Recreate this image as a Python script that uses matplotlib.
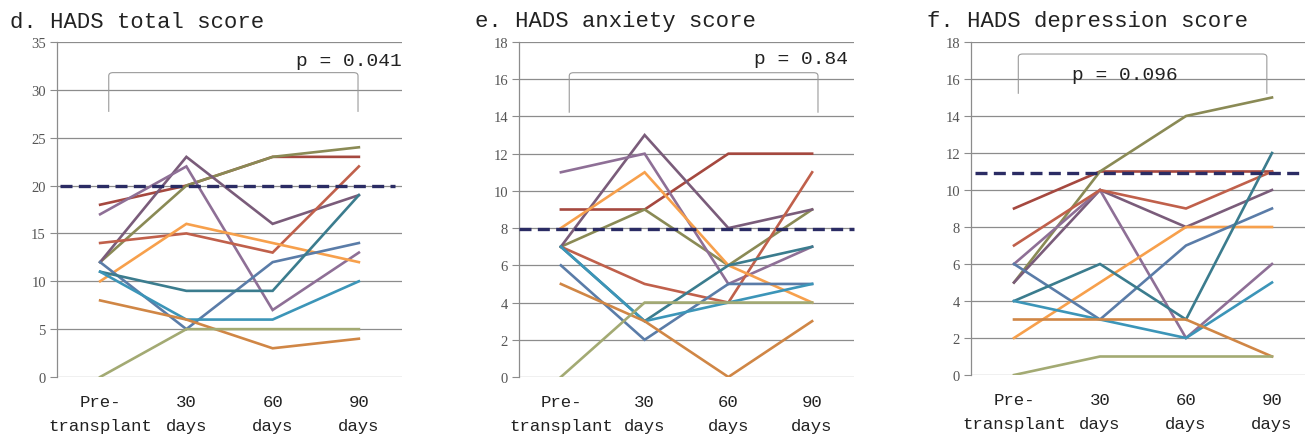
import matplotlib
matplotlib.use("Agg")
import matplotlib.pyplot as plt
from matplotlib.path import Path
from matplotlib.patches import PathPatch

# categories on the x axis
cats = ["Pre-\ntransplant", "30\ndays", "60\ndays", "90\ndays"]

# one row per patient, same colour order in every panel
colors = ["#A5483F", "#8A8A55", "#7A5C7A", "#8E6F96", "#C0604B", "#F7A04C",
          "#5A7CA8", "#3B7C8E", "#3C95B8", "#D08645", "#A3AA73"]

total = [
    [18, 20, 23, 23],
    [12, 20, 23, 24],
    [12, 23, 16, 19],
    [17, 22, 7, 13],
    [14, 15, 13, 22],
    [10, 16, 14, 12],
    [12, 5, 12, 14],
    [11, 9, 9, 19],
    [11, 6, 6, 10],
    [8, 6, 3, 4],
    [0, 5, 5, 5],
]
anxiety = [
    [9, 9, 12, 12],
    [7, 9, 6, 9],
    [7, 13, 8, 9],
    [11, 12, 5, 7],
    [7, 5, 4, 11],
    [8, 11, 6, 4],
    [6, 2, 5, 5],
    [7, 3, 6, 7],
    [7, 3, 4, 5],
    [5, 3, 0, 3],
    [0, 4, 4, 4],
]
depression = [
    [9, 11, 11, 11],
    [5, 11, 14, 15],
    [5, 10, 8, 10],
    [6, 10, 2, 6],
    [7, 10, 9, 11],
    [2, 5, 8, 8],
    [6, 3, 7, 9],
    [4, 6, 3, 12],
    [4, 3, 2, 5],
    [3, 3, 3, 1],
    [0, 1, 1, 1],
]

titles = ["d. HADS total score", "e. HADS anxiety score", "f. HADS depression score"]
ymax = [35, 18, 18]
ystep = [5, 2, 2]
cutoff = [20, 7.95, 10.9]
pvals = ["p = 0.041", "p = 0.84", "p = 0.096"]

mono = "Liberation Mono"
serif = "Liberation Serif"

fig = plt.figure(figsize=(13.05, 4.35), dpi=100)

# axes boxes in pixels: left, bottom(from top), right, top
boxes = [(57, 378, 402, 43), (519, 378, 854, 43), (971, 376, 1315, 43)]
# bracket: x0, x1, ybottom, ytop (data units)
brackets = [(0.10, 2.99, 27.7, 31.8), (0.10, 3.07, 14.2, 16.35), (0.05, 2.94, 15.2, 17.35)]
# p text position (pixels, right/left anchor)
ptext = [(402, 62, "right"), (848, 60, "right"), (1072, 75, "left")]
dash_x = [(-0.47, 3.42), (-0.5, 3.5), (-0.45, 3.5)]
title_x = [10, 475, 927]

W, H = 1305, 435
for i in range(3):
    l, b, r, t = boxes[i]
    ax = fig.add_axes([l / W, 1 - b / H, (r - l) / W, (b - t) / H])
    data = [total, anxiety, depression][i]
    for row, c in zip(data, colors):
        ax.plot(range(4), row, color=c, lw=1.9, solid_joinstyle="miter", zorder=3)
    ax.plot(dash_x[i], [cutoff[i], cutoff[i]], color="#2B2C64", lw=2.4,
            dashes=(3.6, 1.9), zorder=4, clip_on=False)

    ax.set_xlim(-0.5, 3.5)
    ax.set_ylim(0, ymax[i])
    ax.set_yticks(range(0, ymax[i] + 1, ystep[i]))
    ax.set_xticks(range(4))
    ax.set_xticklabels(cats, fontfamily=mono, fontsize=12.5, color="#222222",
                       linespacing=1.75)
    ax.tick_params(axis="x", length=0, pad=12)
    ax.tick_params(axis="y", length=5, width=0.8, color="#8C8C8C", pad=3,
                   labelsize=10.5, labelcolor="#555555")
    for lab in ax.get_yticklabels():
        lab.set_fontfamily(serif)
    ax.grid(axis="y", color="#8C8C8C", lw=0.9)
    ax.set_axisbelow(True)
    for s in ["top", "right", "bottom"]:
        ax.spines[s].set_visible(False)
    ax.spines["left"].set_color("#8C8C8C")
    ax.spines["left"].set_linewidth(0.9)

    # bracket with rounded corners
    x0, x1, yb, yt = brackets[i]
    dx, dy = 0.05, (yt - yb) * 0.08
    verts = [(x0, yb), (x0, yt - dy), (x0, yt), (x0 + dx, yt),
             (x1 - dx, yt), (x1, yt), (x1, yt - dy), (x1, yb)]
    codes = [Path.MOVETO, Path.LINETO, Path.CURVE3, Path.CURVE3,
             Path.LINETO, Path.CURVE3, Path.CURVE3, Path.LINETO]
    ax.add_patch(PathPatch(Path(verts, codes), fill=False, ec="#9A9A9A", lw=0.8,
                           zorder=2))

    px, py, ha = ptext[i]
    fig.text(px / W, 1 - py / H, pvals[i], ha=ha, va="center", fontfamily=mono,
             fontsize=14, color="#222222")
    fig.text(title_x[i] / W, 1 - 22 / H, titles[i], ha="left", va="center",
             fontfamily=mono, fontsize=16, color="#222222")

fig.savefig("out.png", dpi=100)
